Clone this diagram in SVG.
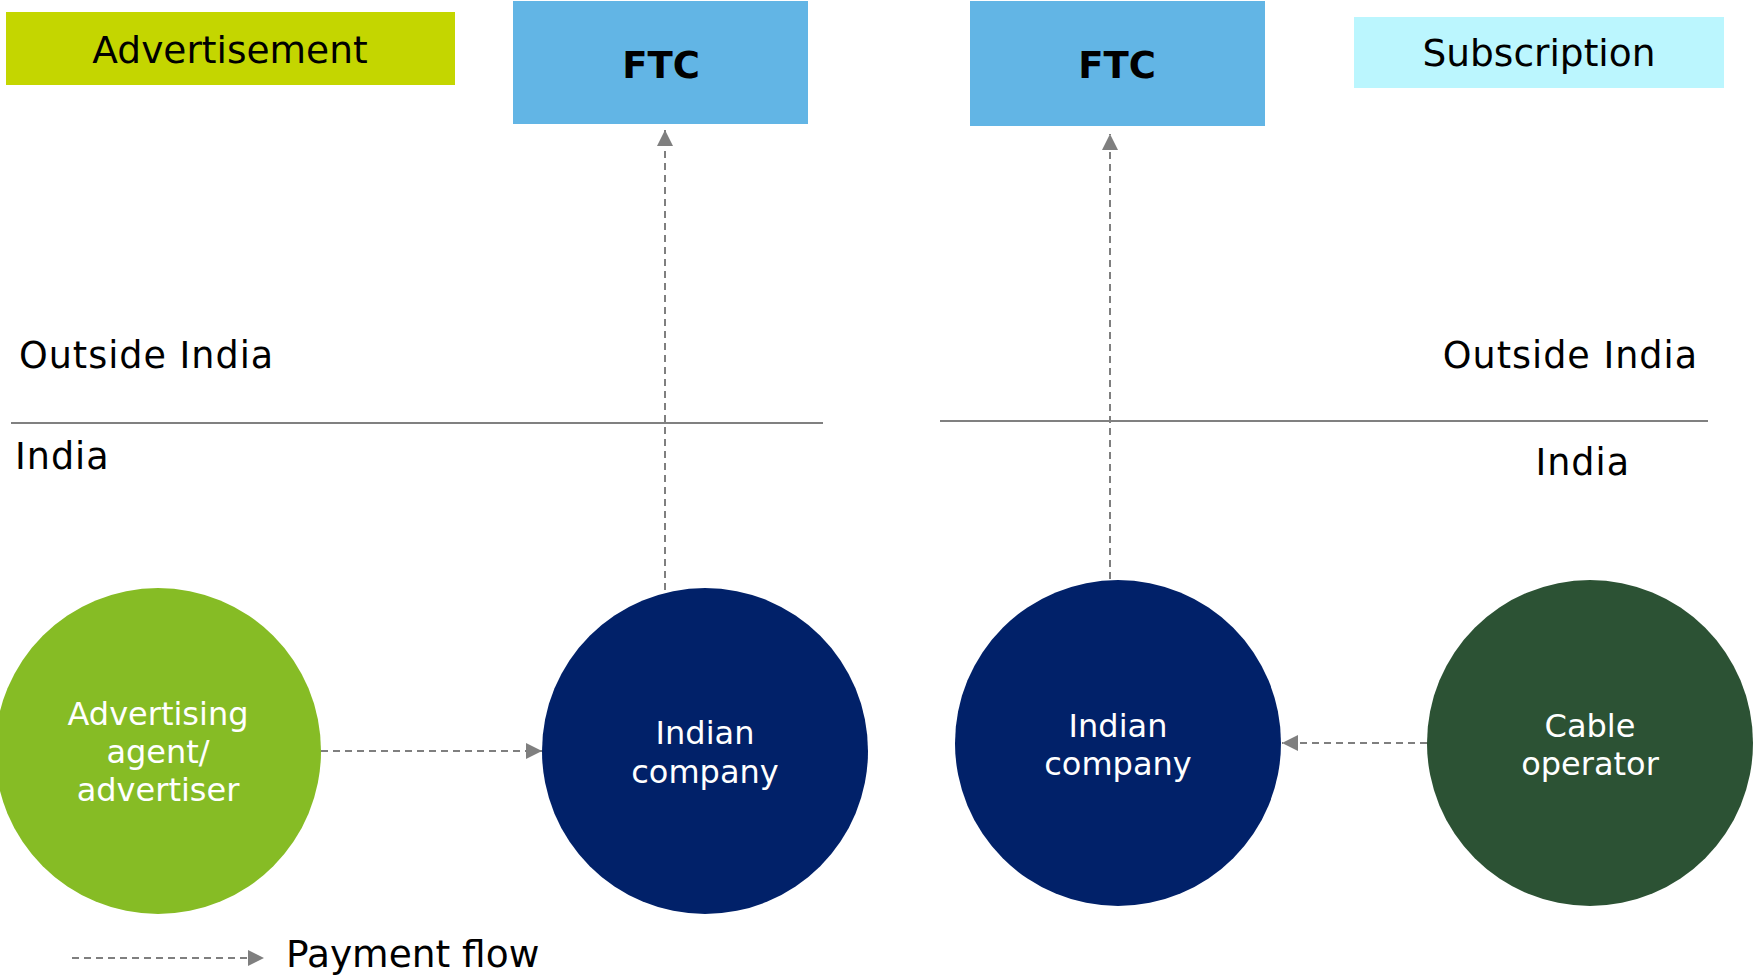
<svg xmlns="http://www.w3.org/2000/svg" width="1755" height="977" viewBox="0 0 1755 977">
<defs>
<style>
text{font-family:"DejaVu Sans","Verdana",sans-serif;}
.lbl{font-size:37.5px;fill:#000;}
.side{font-size:36.5px;fill:#000;letter-spacing:1px;}
.ftc{font-size:37px;font-weight:bold;fill:#000;text-anchor:middle;}
.cir{font-size:32px;fill:#fff;text-anchor:middle;}
.div{stroke:#808080;stroke-width:2;fill:none;}
.flow{stroke:#7f7f7f;stroke-width:2;stroke-dasharray:7 5;fill:none;}
</style>
<marker id="ah" viewBox="0 0 10 10" refX="10" refY="5" markerWidth="16" markerHeight="16" markerUnits="userSpaceOnUse" orient="auto">
<path d="M0,0 L10,5 L0,10 Z" fill="#7f7f7f"/>
</marker>
</defs>
<rect width="1755" height="977" fill="#fff"/>

<g id="advertisement">
<rect x="6" y="12" width="449" height="73" fill="#c4d600"/>
<text class="lbl" x="230" y="63" text-anchor="middle">Advertisement</text>
</g>
<g id="subscription">
<rect x="1354" y="17" width="370" height="71" fill="#bbf6fe"/>
<text class="lbl" x="1539" y="66" text-anchor="middle">Subscription</text>
</g>
<g id="ftc-left">
<rect x="513" y="1" width="295" height="123" fill="#62b5e5"/>
<text class="ftc" x="661" y="78">FTC</text>
</g>
<g id="ftc-right">
<rect x="970" y="1" width="295" height="125" fill="#62b5e5"/>
<text class="ftc" x="1117" y="78">FTC</text>
</g>

<g id="boundaries">
<line class="div" x1="11" y1="423" x2="823" y2="423"/>
<line class="div" x1="940" y1="421" x2="1708" y2="421"/>
<text class="side" x="19" y="368">Outside India</text>
<text class="side" x="15" y="469">India</text>
<text class="side" x="1698" y="368" text-anchor="end">Outside India</text>
<text class="side" x="1630" y="475" text-anchor="end">India</text>
</g>

<g id="connectors">
<line class="flow" x1="665" y1="590" x2="665" y2="130" marker-end="url(#ah)"/>
<line class="flow" x1="1110" y1="579" x2="1110" y2="134" marker-end="url(#ah)"/>
<line class="flow" x1="321" y1="751" x2="542" y2="751" marker-end="url(#ah)"/>
<line class="flow" x1="1427" y1="743" x2="1282" y2="743" marker-end="url(#ah)"/>
<line class="flow" x1="72" y1="958" x2="264" y2="958" marker-end="url(#ah)"/>
</g>

<g id="advertiser">
<circle cx="158" cy="751" r="163" fill="#86bc25"/>
<text class="cir" x="158" y="725">Advertising</text>
<text class="cir" x="158" y="763">agent/</text>
<text class="cir" x="158" y="801">advertiser</text>
</g>
<g id="indian-company-left">
<circle cx="705" cy="751" r="163" fill="#012169"/>
<text class="cir" x="705" y="744">Indian</text>
<text class="cir" x="705" y="783">company</text>
</g>
<g id="indian-company-right">
<circle cx="1118" cy="743" r="163" fill="#012169"/>
<text class="cir" x="1118" y="737">Indian</text>
<text class="cir" x="1118" y="775">company</text>
</g>
<g id="cable-operator">
<circle cx="1590" cy="743" r="163" fill="#2c5234"/>
<text class="cir" x="1590" y="737">Cable</text>
<text class="cir" x="1590" y="775">operator</text>
</g>

<g id="legend">
<text class="lbl" x="286" y="967" font-size="38.5">Payment flow</text>
</g>
</svg>
